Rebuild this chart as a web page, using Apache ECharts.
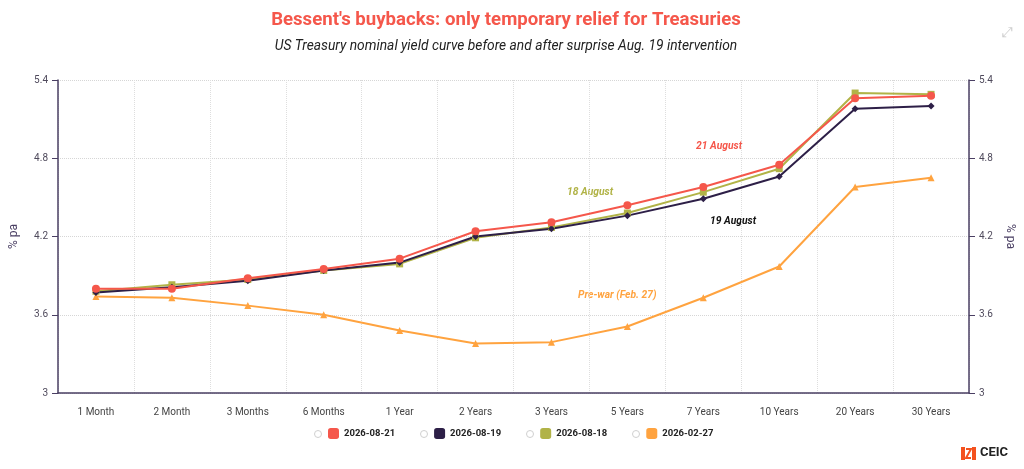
<!DOCTYPE html>
<html lang="en">
<head>
  <meta charset="UTF-8">
  <title>Bessent's buybacks</title>
  <script src="https://cdn.jsdelivr.net/npm/echarts@6/dist/echarts.min.js"></script>
  <style>
    html, body { margin: 0; padding: 0; background: #fff; }
    #chart { width: 1024px; height: 469px; }
  </style>
</head>
<body>
  <div id="chart"></div>
  <script>
    // tenors on the x axis
    var tenors = ['1 Month', '2 Month', '3 Months', '6 Months', '1 Year', '2 Years', '3 Years',
      '5 Years', '7 Years', '10 Years', '20 Years', '30 Years'];
    // yields, % pa
    var aug21 = [3.80, 3.80, 3.88, 3.95, 4.03, 4.24, 4.31, 4.44, 4.58, 4.75, 5.26, 5.28];
    var aug19 = [3.77, 3.81, 3.86, 3.94, 4.00, 4.20, 4.26, 4.36, 4.49, 4.66, 5.18, 5.20];
    var aug18 = [3.78, 3.83, 3.87, 3.94, 3.99, 4.19, 4.27, 4.38, 4.54, 4.72, 5.30, 5.29];
    var feb27 = [3.74, 3.73, 3.67, 3.60, 3.48, 3.38, 3.39, 3.51, 3.73, 3.97, 4.58, 4.65];
    var yTicks = [3, 3.6, 4.2, 4.8, 5.4];

    var RED = '#f5574b', NAVY = '#2d1f47', OLIVE = '#b1b347', ORANGE = '#ffa33f';
    var FONT = 'Roboto, "Noto Sans", sans-serif';

    var chart = echarts.init(document.getElementById('chart'));

    function yAxis(pos) {
      return {
        type: 'value',
        position: pos,
        min: yTicks[0],
        max: yTicks[yTicks.length - 1],
        interval: 0.6,
        name: '% pa',
        nameLocation: 'middle',
        nameGap: pos === 'left' ? 38 : 34,
        nameRotate: pos === 'left' ? 90 : -90,
        nameTextStyle: { color: '#4a3f63', fontSize: 12, fontFamily: FONT },
        axisLine: { show: true, lineStyle: { color: '#4a3f63', width: 1.5 } },
        axisTick: { show: true, length: 6, lineStyle: { color: '#4a3f63' } },
        axisLabel: {
          color: '#4f4a5c', fontSize: 10, fontFamily: FONT, margin: 10,
          formatter: function (v) { return String(Math.round(v * 10) / 10); }
        },
        splitLine: pos === 'left'
          ? { show: true, lineStyle: { color: '#d6d6d6', type: 'dotted' } }
          : { show: false }
      };
    }

    function line(name, data, color, symbol, size) {
      return {
        name: name, type: 'line', data: data,
        symbol: symbol, symbolSize: size,
        yAxisIndex: 0,
        lineStyle: { color: color, width: 2 },
        itemStyle: { color: color },
        emphasis: { disabled: true }
      };
    }

    function note(text, x, y, color) {
      return {
        type: 'text', left: x, top: y,
        style: { text: text, fill: color, font: 'italic bold 10.3px ' + FONT }
      };
    }

    function centred(text, y, font, color) {
      return {
        type: 'text', x: 506, y: y,
        style: { text: text, fill: color, font: font, align: 'center', verticalAlign: 'middle',
          textAlign: 'center', textVerticalAlign: 'middle' }
      };
    }

    function eye(cx) {
      return { type: 'circle', shape: { cx: cx, cy: 434, r: 3.5 }, style: { fill: 'none', stroke: '#d0d0d0', lineWidth: 1 } };
    }

    var option = {
      animation: false,
      backgroundColor: '#fff',
      grid: { left: 57, right: 55, top: 80, bottom: 76 },
      legend: {
        bottom: 25,
        left: 323,
        icon: 'roundRect',
        itemWidth: 11,
        itemHeight: 11,
        itemGap: 39,
        textStyle: { color: '#222', fontSize: 9.5, fontWeight: 'bold', fontFamily: FONT },
        data: ['2026-08-21', '2026-08-19', '2026-08-18', '2026-02-27']
      },
      xAxis: {
        type: 'category',
        data: tenors,
        boundaryGap: true,
        axisLine: { show: true, lineStyle: { color: '#4a3f63', width: 1.5 } },
        axisTick: { show: false },
        axisLabel: { color: '#444', fontSize: 10, fontFamily: FONT, margin: 14, interval: 0 },
        splitLine: { show: true, interval: 0, lineStyle: { color: '#dedede', type: 'dotted' } }
      },
      yAxis: [yAxis('left'), yAxis('right')],
      series: [
        line('2026-02-27', feb27, ORANGE, 'triangle', 7),
        line('2026-08-18', aug18, OLIVE, 'rect', 7),
        line('2026-08-19', aug19, NAVY, 'diamond', 7),
        line('2026-08-21', aug21, RED, 'circle', 8)
      ],
      graphic: [
        centred("Bessent's buybacks: only temporary relief for Treasuries", 20, 'bold 18.6px ' + FONT, RED),
        centred('US Treasury nominal yield curve before and after surprise Aug. 19 intervention', 47, 'italic 13.8px ' + FONT, '#222'),
        note('21 August', 696, 141, RED),
        note('18 August', 567, 187, OLIVE),
        note('19 August', 710, 216, '#111'),
        note('Pre-war (Feb. 27)', 578, 290, ORANGE),
        { type: 'text', left: 1002, top: 26, style: { text: '⤢', fill: '#cfcfcf', font: '14px "DejaVu Sans"' } },
        // eye icons in front of legend entries
        eye(318), eye(424), eye(530), eye(636),
        // CEIC logo
        { type: 'rect', shape: { x: 961, y: 447, width: 4, height: 13 }, style: { fill: '#f4511e' } },
        { type: 'rect', shape: { x: 972, y: 447, width: 4, height: 13 }, style: { fill: '#f4511e' } },
        { type: 'polyline', shape: { points: [[966, 449], [971, 449], [966, 458], [971, 458]] }, style: { stroke: '#f4511e', lineWidth: 2, fill: 'none' } },
        { type: 'text', left: 980, top: 446, style: { text: 'CEIC', fill: '#222', font: 'bold 13px ' + FONT } }
      ]
    };

    chart.setOption(option);
  </script>
</body>
</html>
